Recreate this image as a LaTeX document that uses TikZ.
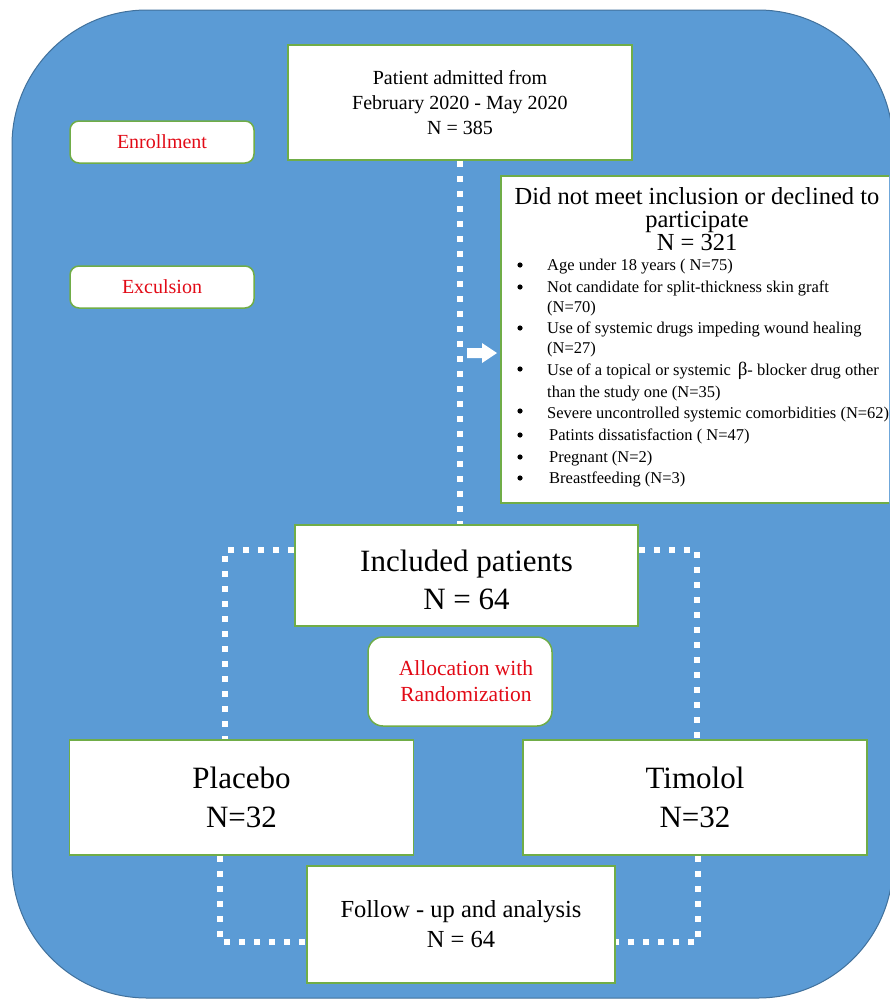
\documentclass[tikz,border=0pt]{standalone}
\usepackage{fontspec}
\setmainfont{Liberation Serif}
\newcommand\fsz[2]{\fontsize{#1}{#2}\selectfont}
\definecolor{bgblue}{RGB}{91,155,213}
\definecolor{bgedge}{RGB}{65,113,156}
\definecolor{boxgreen}{RGB}{112,173,71}
\definecolor{labred}{RGB}{226,10,22}
\pgfdeclarelayer{layerzero}
\pgfdeclarelayer{layerone}
\pgfsetlayers{layerzero,layerone,main}
\begin{document}
\begin{tikzpicture}[x=1pt,y=-1pt,
  box/.style={draw=boxgreen, fill=white, line width=1.5pt, inner sep=0pt, align=center},
  lab/.style={box, rounded corners=9pt, text=labred},
  dots/.style={draw=white, line width=6pt, dash pattern=on 6pt off 9pt},
  item/.style={anchor=base west, inner sep=0pt, font=\fsz{16.5}{18}},
  head/.style={anchor=base, inner sep=0pt, font=\fsz{24.5}{26}},
  bul/.style={fill=black}
]
\clip (0,0) rectangle (889,1001);
\begin{pgfonlayer}{layerzero}
\fill[white] (0,0) rectangle (889,1001);
\draw[fill=bgblue, draw=bgedge, line width=1pt, rounded corners=135pt] (12,10) rectangle (893,998);
\end{pgfonlayer}

% boxes
\node[box, minimum width=344, minimum height=115, font=\fsz{20}{25}] (adm) at (460,102.5) {Patient admitted from\\February 2020 - May 2020\\N = 385};
\node[lab, minimum width=184, minimum height=42, font=\fsz{20}{24}] (enr) at (162,142) {Enrollment};
\node[lab, minimum width=184, minimum height=42, font=\fsz{20}{24}] (exc) at (162,287) {Exculsion};
\node[box, minimum width=343, minimum height=101, font=\fsz{31}{38}] (incl) at (466.5,575.5) {\rule{0pt}{30pt}Included patients\\N = 64};
\node[lab, minimum width=184, minimum height=89, font=\fsz{21.5}{26}, rounded corners=15pt] (alloc) at (460,681.5) {\hspace*{12pt}Allocation with\\\hspace*{12pt}Randomization};
\node[box, minimum width=344, minimum height=115, font=\fsz{31}{39}] (plac) at (241.5,797.5) {Placebo\\N=32};
\node[box, minimum width=344, minimum height=115, font=\fsz{31}{39}] (tim) at (695,797.5) {Timolol\\N=32};
\node[box, minimum width=308, minimum height=117, font=\fsz{24.5}{30}] (fol) at (461,924.5) {Follow - up and analysis\\N = 64};

% dotted connectors (behind the boxes)
\coordinate (jl) at (225,550);
\coordinate (jr) at (697,550);
\coordinate (bl) at (220,942);
\coordinate (br) at (698,942);
\begin{pgfonlayer}{layerone}
\draw[dots] (adm.south) -- (adm.south |- incl.north);
\draw[dots] (incl.west |- jl) -- (jl) -- (jl |- plac.north);
\draw[dots] (incl.east |- jr) -- (jr) -- (jr |- tim.north);
\draw[dots] (bl |- plac.south) -- (bl) -- (bl -| fol.west);
\draw[dots] (br |- tim.south) -- (br) -- (br -| fol.east);
\end{pgfonlayer}

% arrow to exclusion box
\fill[white] (467,348) -- (482,348) -- (482,343) -- (497,353) -- (482,363) -- (482,358) -- (467,358) -- cycle;

% exclusion box
\node[box, minimum width=399, minimum height=327] (excl) at (700.5,339.5) {};
\node[head] (h1) at (697,204) {Did not meet inclusion or declined to};
\node[head] (h2) at (697,227) {participate};
\node[head] (h3) at (697,250) {N = 321};
\node[item] (i1) at (547,270) {Age under 18 years ( N=75)};
\node[item] (i2) at (547,292) {Not candidate for split-thickness skin graft};
\node[item] (i2b) at (547,312) {(N=70)};
\node[item] (i3) at (547,333) {Use of systemic drugs impeding wound healing};
\node[item] (i3b) at (547,353) {(N=27)};
\node[item] (i4) at (547,375) {Use of a topical or systemic \,{\fsz{19}{19}β}- blocker drug other};
\node[item] (i4b) at (547,397) {than the study one (N=35)};
\node[item] (i5) at (547,418) {Severe uncontrolled systemic comorbidities (N=62)};
\node[item] (i6) at (549,440) {Patints dissatisfaction ( N=47)};
\node[item] (i7) at (549,462) {Pregnant (N=2)};
\node[item] (i8) at (549,483) {Breastfeeding (N=3)};
\foreach \yy in {265,287,328,369,411,435,457,478} \fill[bul] (520,\yy) circle (2.6);
\end{tikzpicture}
\end{document}
